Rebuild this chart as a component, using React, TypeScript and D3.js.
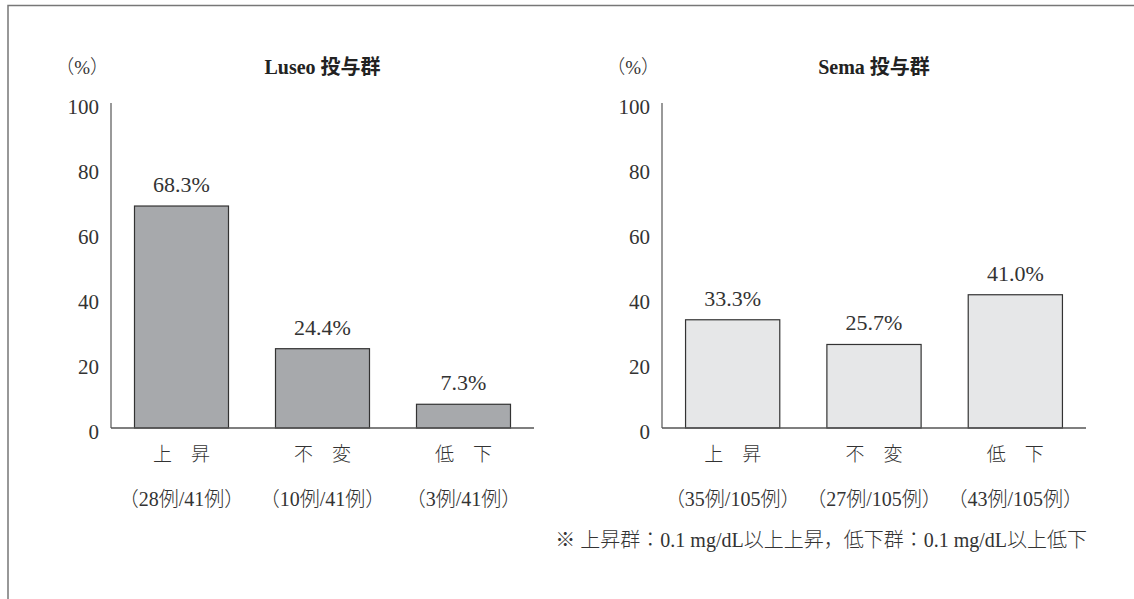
import React from "react";
import * as d3 from "d3";

const categories = ["上　昇", "不　変", "低　下"];
const luseoValues = [68.3, 24.4, 7.3];
const semaValues = [33.3, 25.7, 41.0];
const luseoCounts = ["（28例/41例）", "（10例/41例）", "（3例/41例）"];
const semaCounts = ["（35例/105例）", "（27例/105例）", "（43例/105例）"];
const yTicks = [0, 20, 40, 60, 80, 100];
const titles = ["Luseo 投与群", "Sema 投与群"];
const footnote = "※ 上昇群：0.1 mg/dL以上上昇，低下群：0.1 mg/dL以上低下";

const FONT = "'Liberation Serif', 'Noto Sans CJK JP', serif";
const TEXT = "#333";

function Panel({ x0, x1, values, counts, title, fill }: any) {
  const y = d3.scaleLinear().domain([0, 100]).range([428, 103]);
  const x = d3
    .scaleBand<string>()
    .domain(categories)
    .range([x0, x1])
    .paddingInner(1 / 3)
    .paddingOuter(1 / 6);
  return (
    <g fontFamily={FONT} fill={TEXT}>
      <text x={(x0 + x1) / 2} y={74} textAnchor="middle" fontSize={20} fontWeight="bold" fill="#222">
        {title}
      </text>
      <text x={x0 - 2} y={74} textAnchor="end" fontSize={19} fontWeight={300}>
        （%）
      </text>
      {yTicks.map((t) => (
        <text key={t} x={x0 - 12} y={y(t) + 11} textAnchor="end" fontSize={21}>
          {t}
        </text>
      ))}
      {categories.map((c, i) => {
        const bx = x(c)!;
        const bw = x.bandwidth();
        return (
          <g key={c}>
            <rect
              x={bx}
              y={y(values[i])}
              width={bw}
              height={y(0) - y(values[i])}
              fill={fill}
              stroke="#333"
              strokeWidth={1.2}
            />
            <text x={bx + bw / 2} y={y(values[i]) - 14} textAnchor="middle" fontSize={22}>
              {values[i].toFixed(1)}%
            </text>
            <text x={bx + bw / 2} y={461} textAnchor="middle" fontSize={19} fontWeight={300}>
              {c}
            </text>
            <text x={bx + bw / 2} y={506} textAnchor="middle" fontSize={20} fontWeight={300}>
              {counts[i]}
            </text>
          </g>
        );
      })}
      <line x1={x0} x2={x0} y1={y(100)} y2={y(0)} stroke="#777" strokeWidth={1.5} />
      <line x1={x0} x2={x1} y1={y(0)} y2={y(0)} stroke="#555" strokeWidth={1.5} />
    </g>
  );
}

export default function App() {
  return (
    <svg
      width={1134}
      height={599}
      style={{ position: "absolute", left: 0, top: 0, background: "#fff" }}
    >
      <path d="M8 599 V5.5 H1134" fill="none" stroke="#777" strokeWidth={1.5} />
      <Panel x0={111} x1={534} values={luseoValues} counts={luseoCounts} title={titles[0]} fill="#a7a9ac" />
      <Panel x0={662} x1={1086} values={semaValues} counts={semaCounts} title={titles[1]} fill="#e6e7e8" />
      <text x={1087} y={547} textAnchor="end" fontSize={20} fontWeight={300} fontFamily={FONT} fill={TEXT}>
        {footnote}
      </text>
    </svg>
  );
}
